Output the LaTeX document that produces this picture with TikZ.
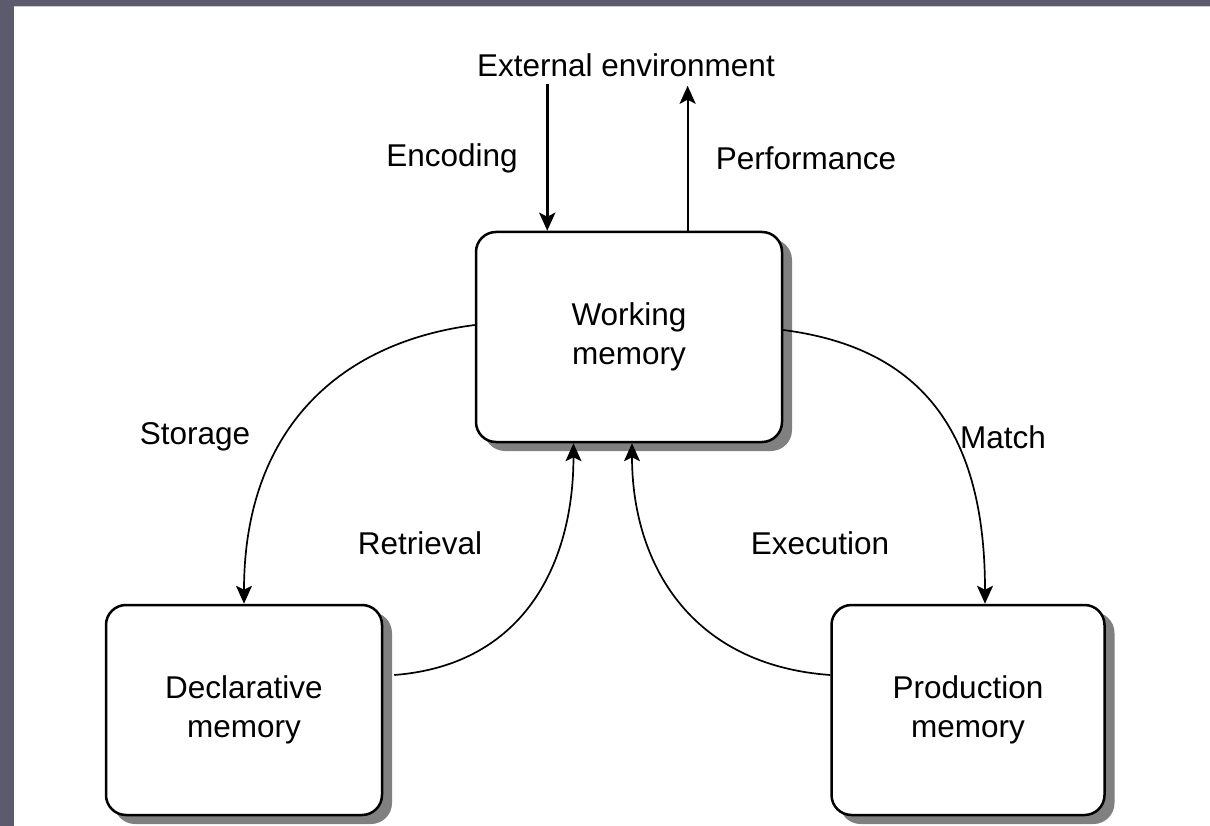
\documentclass[tikz,border=0pt]{standalone}
\usepackage{fontspec}
\setmainfont{Liberation Sans}
\usetikzlibrary{arrows.meta,calc}
\definecolor{frameslate}{RGB}{92,91,110}
\definecolor{shadowgray}{RGB}{128,128,128}
\begin{document}
\begin{tikzpicture}[x=1pt,y=-1pt,
  lbl/.style={font=\fontsize{31.5}{37}\selectfont, inner sep=2pt},
  memorybox/.style={draw=black, line width=2.5pt, fill=white, rounded corners=20pt,
    align=center, font=\fontsize{31.5}{39}\selectfont,
    preaction={fill=shadowgray, draw=shadowgray, line width=2pt,
      transform canvas={shift={(9pt,-8pt)}}}},
  tip/.style={-{Stealth[length=18pt,width=16pt,inset=4pt]}},
  flow/.style={tip, line width=1.7pt},
]
% page and slate frame
\useasboundingbox (0,0) rectangle (1210,826);
\fill[white] (0,0) rectangle (1210,826);
\fill[frameslate] (0,0) rectangle (1210,6);
\fill[frameslate] (0,0) rectangle (14,826);
\draw[gray!40, line width=1pt] (14,7) -- (1210,7);

% memory stores
\node[memorybox, minimum width=306pt, minimum height=210pt] (wm) at (629,337) {Working\\memory};
\node[memorybox, minimum width=276pt, minimum height=210pt] (dm) at (244,710) {Declarative\\memory};
\node[memorybox, minimum width=273pt, minimum height=210pt] (pm) at (968,710) {Production\\memory};

% environment
\node[lbl] (ext) at (626,65) {External environment};
\coordinate (encIn) at ($(wm.north west)!0.235!(wm.north east)$);
\coordinate (perfOut) at ($(wm.north west)!0.69!(wm.north east)$);
\draw[tip, line width=3.2pt] ($(ext.south -| encIn)+(0,5)$) -- (encIn);
\draw[tip, line width=1.8pt] (perfOut) -- ($(ext.south -| perfOut)+(0,7)$);
\node[lbl] (enc) at (452,158) {Encoding};
\node[lbl] (perf) at (806,158) {Performance};

% exchanges with the stores
\coordinate (stOut) at ($(wm.west)+(0,-12)$);
\coordinate (stIn) at (dm.north);
\draw[flow] (stOut) .. controls +(-140,18) and +(0,-170) .. (stIn);

\coordinate (mtOut) at ($(wm.east)+(0,-7)$);
\coordinate (mtIn) at ($(pm.north)+(17,0)$);
\draw[flow] (mtOut) .. controls +(140,18) and +(0,-170) .. (mtIn);

\coordinate (rtOut) at ($(dm.east)+(11,-35)$);
\coordinate (rtIn) at ($(wm.south west)!0.32!(wm.south east)$);
\draw[flow] (rtOut) .. controls +(130,-10) and +(0,120) .. (rtIn);

\coordinate (exOut) at ($(pm.west)+(0,-35)$);
\coordinate (exIn) at ($(wm.south)+(3,0)$);
\draw[flow] (exOut) .. controls +(-140,-10) and +(0,120) .. (exIn);

\node[lbl] (sto) at (195,437) {Storage};
\node[lbl] (mat) at (1003,437) {Match};
\node[lbl] (ret) at (420,543) {Retrieval};
\node[lbl] (exe) at (820,543) {Execution};
\end{tikzpicture}
\end{document}
